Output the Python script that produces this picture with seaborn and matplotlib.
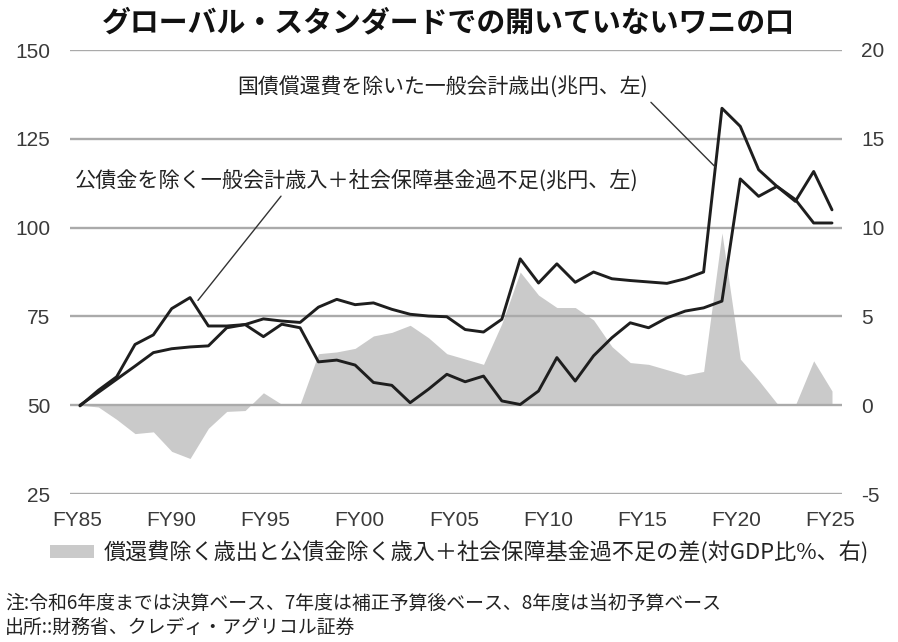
import numpy as np
import pandas as pd
import matplotlib
matplotlib.use("Agg")
import matplotlib.pyplot as plt
import seaborn as sns

# ---------------- data ----------------
years = list(range(1985, 2027))
expenditure = [50.0, 53.6, 57.3, 61.0, 64.8, 65.9, 66.4, 66.7, 71.8, 72.7,
               74.3, 73.7, 73.3, 77.6, 79.8, 78.3, 78.8, 77.0, 75.6, 75.1,
               74.9, 71.3, 70.6, 74.2, 91.2, 84.4, 89.8, 84.6, 87.5, 85.6,
               85.1, 84.7, 84.3, 85.6, 87.5, 133.6, 128.5, 116.3, 111.6, 107.4,
               115.8, 105.0]
revenue = [49.8, 54.2, 58.0, 67.1, 69.8, 77.2, 80.3, 72.3, 72.3, 72.7,
           69.3, 72.8, 71.8, 62.2, 62.7, 61.3, 56.4, 55.6, 50.7, 54.5,
           58.7, 56.6, 58.2, 51.2, 50.2, 54.0, 63.4, 56.8, 63.9, 69.0,
           73.2, 71.8, 74.6, 76.5, 77.4, 79.3, 113.7, 108.8, 111.6, 107.9,
           101.3, 101.3]
gap_gdp = [0.0, -0.1, -0.8, -1.6, -1.5, -2.6, -3.0, -1.3, -0.35, -0.3,
           0.7, 0.05, 0.05, 2.9, 3.0, 3.2, 3.9, 4.1, 4.5, 3.8,
           2.9, 2.6, 2.3, 4.6, 7.5, 6.2, 5.5, 5.5, 4.8, 3.3,
           2.4, 2.3, 2.0, 1.7, 1.9, 9.7, 2.6, 1.4, 0.1, 0.0,
           2.5, 0.8]
x_tick_labels = ["FY85", "FY90", "FY95", "FY00", "FY05", "FY10", "FY15", "FY20", "FY25"]
left_ticks = [25, 50, 75, 100, 125, 150]
right_ticks = [-5, 0, 5, 10, 15, 20]

title = "グローバル・スタンダードでの開いていないワニの口"
label_exp = "国債償還費を除いた一般会計歳出(兆円、左)"
label_rev = "公債金を除く一般会計歳入＋社会保障基金過不足(兆円、左)"
label_gap = "償還費除く歳出と公債金除く歳入＋社会保障基金過不足の差(対GDP比%、右)"
note1 = "注:令和6年度までは決算ベース、7年度は補正予算後ベース、8年度は当初予算ベース"
note2 = "出所::財務省、クレディ・アグリコル証券"

df = pd.DataFrame({"year": years, "exp": expenditure, "rev": revenue, "gap": gap_gdp})

# ---------------- style ----------------
sns.set_theme(style="white")
plt.rcParams["font.family"] = ["Liberation Sans", "Noto Sans CJK JP", "DejaVu Sans"]
plt.rcParams["axes.unicode_minus"] = False
jp = ["Noto Sans CJK JP", "DejaVu Sans"]

W, H = 898, 642
fig = plt.figure(figsize=(W / 100, H / 100), dpi=100)
ax = fig.add_axes([70 / W, 1 - 494 / H, (842 - 70) / W, (494 - 50) / H])
ax2 = ax.twinx()

# gray area (right axis)
area = ax2.fill_between(df["year"], 0, df["gap"], color="#cacaca", linewidth=0,
                        label=label_gap)
ax2.set_ylim(-5, 20)
ax2.set_yticks(right_ticks)

# main axis on top
ax.set_zorder(ax2.get_zorder() + 1)
ax.patch.set_visible(False)

sns.lineplot(data=df, x="year", y="exp", ax=ax, color="#1e1e1e", lw=2.1, legend=False)
sns.lineplot(data=df, x="year", y="rev", ax=ax, color="#1e1e1e", lw=2.1, legend=False)

ax.set_ylim(25, 150)
ax.set_yticks(left_ticks)
ax.set_xlim(1984.455, 2026.545)
ax.set_xticks(np.linspace(1984.84, 2025.92, len(x_tick_labels)))
ax.set_xticklabels(x_tick_labels)
ax.set_xlabel("")
ax.set_ylabel("")
ax2.set_ylabel("")
ax.grid(axis="y", color="#aaaaaa", lw=1.7)
ax.grid(axis="x", visible=False)
ax.set_axisbelow(True)

for a in (ax, ax2):
    for s in a.spines.values():
        s.set_visible(False)

tick_color = "#3a3a3a"
ax.tick_params(axis="y", length=0, pad=14, labelsize=15, labelcolor=tick_color)
ax.tick_params(axis="x", length=0, pad=12, labelsize=15, labelcolor=tick_color)
ax2.tick_params(axis="y", length=0, pad=14, labelsize=15, labelcolor=tick_color)

# annotations
ax.annotate(label_exp, xy=(2019.65, 117.0), xytext=(2015.95, 139.3),
            ha="right", va="center", fontsize=15, color="#222222", family=jp,
            arrowprops=dict(arrowstyle="-", color="#333333", lw=1.0,
                            relpos=(1.0, 0.0), shrinkA=0, shrinkB=0))
ax.annotate(label_rev, xy=(1991.43, 79.5), xytext=(1984.73, 112.9),
            ha="left", va="center", fontsize=15.2, color="#222222", family=jp,
            arrowprops=dict(arrowstyle="-", color="#333333", lw=1.0,
                            relpos=(0.37, 0.0), shrinkA=0, shrinkB=0))

# title
fig.text(448 / W, 1 - 22 / H, title, ha="center", va="center", fontsize=20.8,
         fontweight="bold", color="#111111", family=jp)

# legend
fig.legend(handles=[area], labels=[label_gap], loc="center left",
           bbox_to_anchor=(50 / W, 1 - 553 / H), frameon=False,
           handlelength=2.0, handleheight=0.55,
           handletextpad=0.45, borderpad=0, borderaxespad=0,
           prop={"family": jp, "size": 15.9}, labelcolor="#222222")

# notes
fig.text(5 / W, 1 - 603 / H, note1, ha="left", va="center", fontsize=13.6,
         color="#222222", family=jp)
fig.text(5 / W, 1 - 627 / H, note2, ha="left", va="center", fontsize=13.6,
         color="#222222", family=jp)

fig.savefig("out.png", dpi=100)
